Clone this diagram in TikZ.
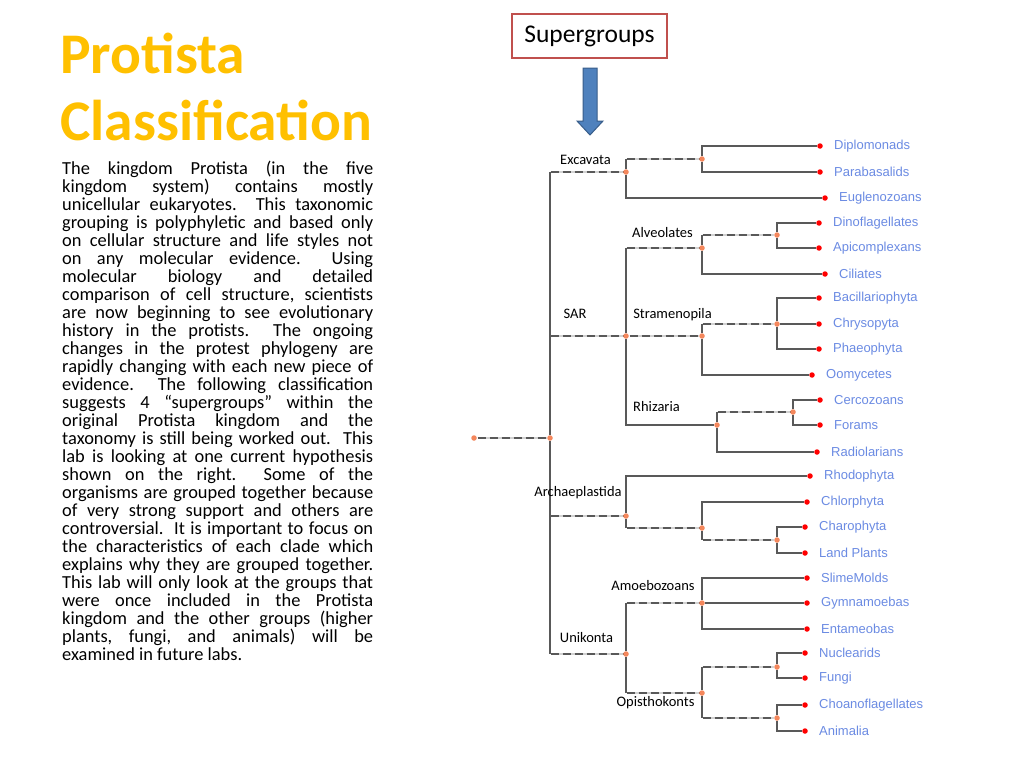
\documentclass[tikz,border=0pt]{standalone}
\usepackage{fontspec}
\setmainfont{Carlito}
\newfontfamily\taxonfont{Liberation Sans}
\usetikzlibrary{positioning, backgrounds}
\definecolor{titlegold}{HTML}{FFC000}
\definecolor{branchgray}{HTML}{595959}
\definecolor{dashgray}{HTML}{D2D2D2}
\definecolor{knotorange}{HTML}{F4875C}
\definecolor{tipred}{HTML}{FF0000}
\definecolor{taxonblue}{HTML}{6B8BE3}
\definecolor{boxred}{HTML}{C0504D}
\definecolor{arrowblue}{HTML}{4F81BD}
\definecolor{arrowedge}{HTML}{385D8A}
\tikzset{
  titletext/.style={
    text=titlegold,
    font=\bfseries\fontsize{57.5}{67}\selectfont,
    inner sep=0pt
  },
  bodytext/.style={
    text=black,
    font=\frenchspacing\fontsize{18.4}{18}\selectfont,
    text width=311pt,
    align=justify,
    inner sep=0pt
  },
  groupbox/.style={
    draw=boxred,
    fill=white,
    line width=2pt,
    minimum width=155pt,
    minimum height=44pt,
    font=\fontsize{25.5}{30}\selectfont
  },
  knot/.style={
    circle,
    fill=knotorange,
    inner sep=0pt,
    minimum size=5.5pt
  },
  tip/.style={
    circle,
    fill=tipred,
    inner sep=0pt,
    minimum size=5.5pt
  },
  taxon/.style={
    text=taxonblue,
    font=\taxonfont\fontsize{13}{15}\selectfont,
    inner sep=1pt,
    xshift=10pt
  },
  clade/.style={
    text=black,
    font=\fontsize{14.5}{17}\selectfont,
    inner sep=0pt
  },
  branch/.style={
    draw=branchgray,
    line width=1.4pt
  },
  dashbranch/.style={
    draw=dashgray,
    line width=1.4pt,
    shorten <=0.7pt,
    postaction={draw=branchgray, dash pattern=on 8pt off 4pt}
  },
  bluearrow/.style={
    fill=arrowblue,
    draw=arrowedge,
    line width=1pt
  }
}

\begin{document}
\begin{tikzpicture}[x=1pt, y=-1pt]

  \useasboundingbox (0,0) rectangle (1024,768);

  % ==================== TEXT COLUMN ====================
  \node (title1) [titletext, anchor=base west] at (60,73) {Protista};
  \node (title2) [titletext, anchor=base west] at (60,140) {Classification};

  \node (body) [bodytext, anchor=north west] at (62,160.5) {The kingdom Protista (in the five\linebreak
kingdom system) contains mostly\linebreak
unicellular eukaryotes.~ This taxonomic\linebreak
grouping is polyphyletic and based only\linebreak
on cellular structure and life styles not\linebreak
on any molecular evidence.~ Using\linebreak
molecular biology and detailed\linebreak
comparison of cell structure, scientists\linebreak
are now beginning to see evolutionary\linebreak
history in the protists.~ The ongoing\linebreak
changes in the protest phylogeny are\linebreak
rapidly changing with each new piece of\linebreak
evidence.~ The following classification\linebreak
suggests 4 “supergroups” within the\linebreak
original Protista kingdom and the\linebreak
taxonomy is still being worked out.~ This\linebreak
lab is looking at one current hypothesis\linebreak
shown on the right.~ Some of the\linebreak
organisms are grouped together because\linebreak
of very strong support and others are\linebreak
controversial.~ It is important to focus on\linebreak
the characteristics of each clade which\linebreak
explains why they are grouped together.\linebreak
This lab will only look at the groups that\linebreak
were once included in the Protista\linebreak
kingdom and the other groups (higher\linebreak
plants, fungi, and animals) will be\linebreak
examined in future labs.};

  % ==================== HEADER BOX ====================
  \node (sg) [groupbox] at (589.5,36) {Supergroups};
  \filldraw[bluearrow] (583,68) -- (597,68) -- (597,121) -- (603,121)
    -- (590,135) -- (577,121) -- (583,121) -- cycle;

  % ==================== INNER KNOTS ====================
  \node (stem)  [knot] at (474,438) {};
  \node (root)  [knot] at (550,438) {};
  \node (ex)    [knot] at (626,172) {};
  \node (ex2)   [knot] at (702,159) {};
  \node (sar)   [knot] at (626,336) {};
  \node (alv)   [knot] at (702,248) {};
  \node (alv2)  [knot] at (777,235) {};
  \node (stra)  [knot] at (702,336) {};
  \node (stra2) [knot] at (777,324) {};
  \node (rhiz)  [knot] at (717,425) {};
  \node (rhiz2) [knot] at (793,412) {};
  \node (arch)  [knot] at (626,516) {};
  \node (arch2) [knot] at (702,528) {};
  \node (arch3) [knot] at (777,540) {};
  \node (uni)   [knot] at (626,654) {};
  \node (amoe)  [knot] at (702,603) {};
  \node (opis)  [knot] at (702,693) {};
  \node (opis1) [knot] at (777,667) {};
  \node (opis2) [knot] at (777,718) {};

  % ==================== TIPS ====================
  \node (dipl) [tip, label={[taxon]right:Diplomonads}] at (820,146) {};
  \node (para) [tip, label={[taxon]right:Parabasalids}] at (820,172) {};
  \node (eugl) [tip, label={[taxon]right:Euglenozoans}] at (825,198) {};
  \node (dino) [tip, label={[taxon]right:Dinoflagellates}] at (819,223) {};
  \node (apic) [tip, label={[taxon]right:Apicomplexans}] at (819,248) {};
  \node (cili) [tip, label={[taxon]right:Ciliates}] at (825,274) {};
  \node (baci) [tip, label={[taxon]right:Bacillariophyta}] at (819,298) {};
  \node (chry) [tip, label={[taxon]right:Chrysopyta}] at (819,324) {};
  \node (phae) [tip, label={[taxon]right:Phaeophyta}] at (819,349) {};
  \node (oomy) [tip, label={[taxon]right:Oomycetes}] at (812,375) {};
  \node (cerc) [tip, label={[taxon]right:Cercozoans}] at (820,400) {};
  \node (fora) [tip, label={[taxon]right:Forams}] at (820,425) {};
  \node (radi) [tip, label={[taxon]right:Radiolarians}] at (817,452) {};
  \node (rhod) [tip, label={[taxon]right:Rhodophyta}] at (810,476) {};
  \node (chlo) [tip, label={[taxon]right:Chlorphyta}] at (807,502) {};
  \node (char) [tip, label={[taxon]right:Charophyta}] at (805,527) {};
  \node (land) [tip, label={[taxon]right:Land Plants}] at (805,553) {};
  \node (slim) [tip, label={[taxon]right:SlimeMolds}] at (807,578) {};
  \node (gymn) [tip, label={[taxon]right:Gymnamoebas}] at (807,603) {};
  \node (enta) [tip, label={[taxon]right:Entameobas}] at (807,629) {};
  \node (nucl) [tip, label={[taxon]right:Nuclearids}] at (805,653) {};
  \node (fung) [tip, label={[taxon]right:Fungi}] at (805,678) {};
  \node (choa) [tip, label={[taxon]right:Choanoflagellates}] at (805,705) {};
  \node (anim) [tip, label={[taxon]right:Animalia}] at (805,731) {};

  % ==================== CLADE NAMES ====================
  \node (l-ex)   [clade] at (585.5,160) {Excavata};
  \node (l-alv)  [clade] at (662.5,233) {Alveolates};
  \node (l-sar)  [clade] at (575,313.5) {SAR};
  \node (l-stra) [clade] at (672.5,315) {Stramenopila};
  \node (l-rhiz) [clade] at (656.5,407) {Rhizaria};
  \node (l-arch) [clade] at (578,493) {Archaeplastida};
  \node (l-amoe) [clade] at (653,586) {Amoebozoans};
  \node (l-uni)  [clade] at (586.5,638) {Unikonta};
  \node (l-opis) [clade] at (655.5,703) {Opisthokonts};

  % ==================== BRANCHES ====================
  \begin{scope}[on background layer]
    \fill[white] (0,0) rectangle (1024,768);

    % backbone
    \draw[dashbranch] (stem) -- (root);
    \draw[branch] (root) -- (root |- ex);    \draw[dashbranch] (root |- ex) -- (ex);
    \draw[branch] (root) -- (root |- uni);   \draw[dashbranch] (root |- uni) -- (uni);
    \draw[dashbranch] (root |- sar) -- (sar);
    \draw[dashbranch] (root |- arch) -- (arch);

    % Excavata
    \draw[branch] (ex) -- (ex |- ex2);       \draw[dashbranch] (ex |- ex2) -- (ex2);
    \draw[branch] (ex) |- (eugl);
    \draw[branch] (ex2) |- (dipl);
    \draw[branch] (ex2) |- (para);

    % SAR
    \draw[branch] (sar) -- (sar |- alv);     \draw[dashbranch] (sar |- alv) -- (alv);
    \draw[dashbranch] (sar) -- (stra);
    \draw[branch] (sar) |- (rhiz);
    \draw[branch] (alv) -- (alv |- alv2);    \draw[dashbranch] (alv |- alv2) -- (alv2);
    \draw[branch] (alv) |- (cili);
    \draw[branch] (alv2) |- (dino);
    \draw[branch] (alv2) |- (apic);
    \draw[branch] (stra) -- (stra |- stra2); \draw[dashbranch] (stra |- stra2) -- (stra2);
    \draw[branch] (stra) |- (oomy);
    \draw[branch] (stra2) |- (baci);
    \draw[branch] (stra2) -- (chry);
    \draw[branch] (stra2) |- (phae);
    \draw[branch] (rhiz) -- (rhiz |- rhiz2); \draw[dashbranch] (rhiz |- rhiz2) -- (rhiz2);
    \draw[branch] (rhiz) |- (radi);
    \draw[branch] (rhiz2) |- (cerc);
    \draw[branch] (rhiz2) |- (fora);

    % Archaeplastida
    \draw[branch] (arch) |- (rhod);
    \draw[branch] (arch) -- (arch |- arch2); \draw[dashbranch] (arch |- arch2) -- (arch2);
    \draw[branch] (arch2) |- (chlo);
    \draw[branch] (arch2) -- (arch2 |- arch3); \draw[dashbranch] (arch2 |- arch3) -- (arch3);
    \draw[branch] (arch3) |- (char);
    \draw[branch] (arch3) |- (land);

    % Unikonta
    \draw[branch] (uni) -- (uni |- amoe);    \draw[dashbranch] (uni |- amoe) -- (amoe);
    \draw[branch] (uni) -- (uni |- opis);    \draw[dashbranch] (uni |- opis) -- (opis);
    \draw[branch] (amoe) |- (slim);
    \draw[branch] (amoe) -- (gymn);
    \draw[branch] (amoe) |- (enta);
    \draw[branch] (opis) -- (opis |- opis1); \draw[dashbranch] (opis |- opis1) -- (opis1);
    \draw[branch] (opis) -- (opis |- opis2); \draw[dashbranch] (opis |- opis2) -- (opis2);
    \draw[branch] (opis1) |- (nucl);
    \draw[branch] (opis1) |- (fung);
    \draw[branch] (opis2) |- (choa);
    \draw[branch] (opis2) |- (anim);
  \end{scope}

\end{tikzpicture}
\end{document}
